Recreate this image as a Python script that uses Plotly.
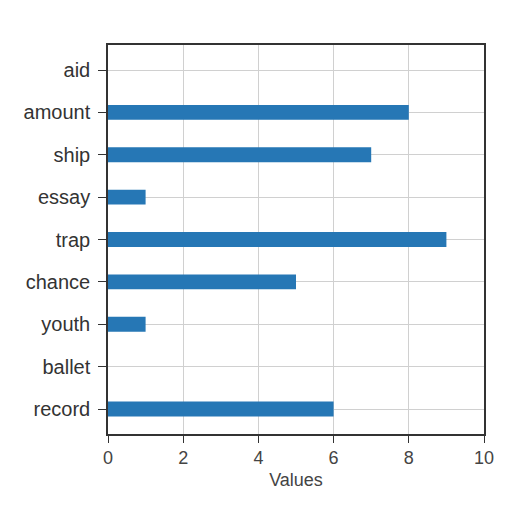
import plotly.graph_objects as go

categories = ["aid", "amount", "ship", "essay", "trap", "chance", "youth", "ballet", "record"]
values = [0, 8, 7, 1, 9, 5, 1, 0, 6]
x_ticks = [0, 2, 4, 6, 8, 10]

fig = go.Figure()
fig.add_trace(go.Bar(
    x=values,
    y=categories,
    orientation="h",
    width=0.35,
    marker=dict(color="#2677b5", line=dict(width=0)),
))

font_family = "Liberation Sans, Arial, sans-serif"

fig.update_layout(
    width=512,
    height=512,
    margin=dict(l=100, r=36, t=37, b=86),
    paper_bgcolor="white",
    plot_bgcolor="white",
    showlegend=False,
    xaxis=dict(
        range=[0, 10],
        tickvals=x_ticks,
        showgrid=True,
        gridcolor="#d0d0d0",
        gridwidth=1,
        zeroline=False,
        showline=True,
        linecolor="#333333",
        linewidth=1.5,
        mirror=True,
        ticks="outside",
        ticklen=7,
        tickcolor="#333333",
        tickfont=dict(family=font_family, size=18, color="#444444"),
        title=dict(text="Values", font=dict(family=font_family, size=18, color="#444444"), standoff=6),
    ),
    yaxis=dict(
        categoryorder="array",
        categoryarray=categories[::-1],
        range=[-0.59, 8.59],
        showgrid=True,
        gridcolor="#d0d0d0",
        gridwidth=1,
        zeroline=False,
        showline=True,
        linecolor="#333333",
        linewidth=1.5,
        mirror=True,
        ticks="outside",
        ticklen=8,
        tickcolor="#333333",
        ticklabelstandoff=4,
        tickfont=dict(family=font_family, size=20, color="#333333"),
    ),
)

fig.write_html("out.html")
